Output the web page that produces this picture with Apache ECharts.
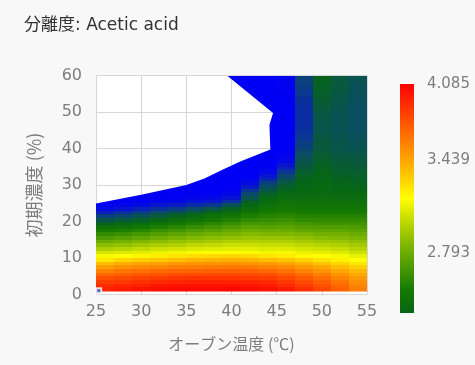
<!DOCTYPE html>
<html><head><meta charset="utf-8">
<script src="https://cdn.jsdelivr.net/npm/echarts@6/dist/echarts.min.js"></script>
<style>html,body{margin:0;padding:0;background:#f8f8f8;}#c{width:475px;height:365px;}</style>
</head><body><div id="c"></div>
<script>
const titleText = '分離度: Acetic acid';
const xName = 'オーブン温度 (℃)';
const yName = '初期濃度 (%)';

// cell edges (x: oven temperature, y: initial concentration)
const xEdges = [25, 27, 29, 31, 33, 35, 37, 39, 41, 43, 45, 47, 49, 51, 53, 55];
const yEdges = [0, 1, 2, 3, 4, 5, 6, 7, 8, 9, 10, 11, 12, 13, 14, 15, 16, 17, 18, 19, 20,
  21, 22, 23, 24, 25, 26, 27, 28, 29, 30, 31, 32, 33, 34, 35, 36, 37, 38, 39, 40,
  42, 44, 46, 48, 50, 52, 54, 56, 58, 60];

const _ = null; // no data
// resolution values, one row per y band (bottom to top), one column per x band
const values = [
  [3.97, 4.01, 4.04, 4.06, 4.08, 4.08, 4.08, 4.08, 4.07, 4.05, 4.00, 3.92, 3.83, 3.73, 3.62],
  [3.95, 3.98, 4.01, 4.03, 4.05, 4.05, 4.05, 4.06, 4.04, 4.02, 3.98, 3.90, 3.81, 3.71, 3.60],
  [3.91, 3.94, 3.96, 3.99, 4.01, 4.01, 4.01, 4.01, 4.00, 3.98, 3.93, 3.85, 3.77, 3.68, 3.57],
  [3.85, 3.87, 3.90, 3.92, 3.94, 3.95, 3.95, 3.95, 3.94, 3.92, 3.87, 3.80, 3.72, 3.63, 3.53],
  [3.78, 3.80, 3.83, 3.85, 3.87, 3.88, 3.88, 3.88, 3.87, 3.85, 3.80, 3.74, 3.66, 3.57, 3.49],
  [3.68, 3.71, 3.74, 3.76, 3.79, 3.79, 3.80, 3.80, 3.79, 3.77, 3.73, 3.66, 3.59, 3.51, 3.43],
  [3.58, 3.62, 3.65, 3.67, 3.69, 3.70, 3.71, 3.71, 3.70, 3.68, 3.64, 3.58, 3.51, 3.44, 3.38],
  [3.47, 3.52, 3.55, 3.57, 3.59, 3.60, 3.61, 3.62, 3.61, 3.58, 3.55, 3.49, 3.43, 3.37, 3.31],
  [3.36, 3.41, 3.44, 3.46, 3.48, 3.50, 3.51, 3.52, 3.50, 3.48, 3.45, 3.40, 3.34, 3.29, 3.24],
  [3.24, 3.29, 3.32, 3.34, 3.37, 3.39, 3.40, 3.41, 3.39, 3.37, 3.34, 3.30, 3.25, 3.21, 3.17],
  [3.15, 3.17, 3.20, 3.22, 3.25, 3.27, 3.28, 3.29, 3.28, 3.25, 3.23, 3.19, 3.17, 3.15, 3.11],
  [3.06, 3.08, 3.10, 3.12, 3.14, 3.16, 3.17, 3.17, 3.16, 3.14, 3.15, 3.12, 3.11, 3.09, 3.05],
  [2.97, 2.99, 3.02, 3.04, 3.06, 3.08, 3.09, 3.10, 3.10, 3.09, 3.09, 3.07, 3.05, 3.03, 2.99],
  [2.88, 2.90, 2.93, 2.96, 2.98, 3.01, 3.02, 3.04, 3.04, 3.03, 3.03, 3.01, 2.99, 2.97, 2.94],
  [2.79, 2.82, 2.85, 2.88, 2.91, 2.93, 2.95, 2.97, 2.98, 2.97, 2.97, 2.95, 2.93, 2.92, 2.89],
  [2.70, 2.73, 2.76, 2.80, 2.83, 2.86, 2.88, 2.90, 2.92, 2.91, 2.91, 2.89, 2.87, 2.86, 2.84],
  [2.62, 2.64, 2.68, 2.72, 2.75, 2.78, 2.81, 2.83, 2.86, 2.85, 2.85, 2.83, 2.81, 2.81, 2.79],
  [2.54, 2.56, 2.59, 2.64, 2.67, 2.71, 2.74, 2.77, 2.80, 2.79, 2.79, 2.77, 2.76, 2.76, 2.74],
  [2.46, 2.47, 2.51, 2.56, 2.59, 2.63, 2.67, 2.70, 2.74, 2.73, 2.74, 2.72, 2.71, 2.71, 2.70],
  [2.35, 2.38, 2.42, 2.47, 2.52, 2.56, 2.60, 2.63, 2.68, 2.68, 2.69, 2.67, 2.66, 2.66, 2.66],
  [2.27, 2.30, 2.34, 2.39, 2.44, 2.48, 2.53, 2.57, 2.62, 2.63, 2.64, 2.62, 2.62, 2.62, 2.62],
  [2.18, 2.21, 2.26, 2.31, 2.36, 2.41, 2.46, 2.50, 2.56, 2.58, 2.60, 2.58, 2.58, 2.58, 2.58],
  [2.07, 2.12, 2.17, 2.22, 2.27, 2.32, 2.38, 2.43, 2.50, 2.54, 2.56, 2.54, 2.54, 2.54, 2.54],
  [1.96, 2.01, 2.07, 2.13, 2.16, 2.22, 2.28, 2.36, 2.44, 2.50, 2.52, 2.51, 2.51, 2.51, 2.51],
  [1.90, 1.93, 1.96, 2.02, 2.05, 2.11, 2.15, 2.25, 2.38, 2.46, 2.49, 2.48, 2.48, 2.48, 2.48],
  [1.87, 1.89, 1.91, 1.94, 1.96, 2.00, 2.03, 2.12, 2.33, 2.42, 2.46, 2.45, 2.46, 2.45, 2.45],
  [_, 1.86, 1.88, 1.90, 1.91, 1.93, 1.95, 2.01, 2.27, 2.38, 2.43, 2.43, 2.44, 2.43, 2.43],
  [_, _, 1.86, 1.88, 1.89, 1.90, 1.91, 1.94, 2.21, 2.34, 2.40, 2.41, 2.42, 2.41, 2.41],
  [_, _, _, 1.86, 1.87, 1.88, 1.89, 1.91, 2.15, 2.29, 2.37, 2.39, 2.41, 2.39, 2.39],
  [_, _, _, _, 1.86, 1.87, 1.88, 1.89, 2.05, 2.24, 2.34, 2.38, 2.40, 2.38, 2.37],
  [_, _, _, _, _, 1.86, 1.87, 1.88, 1.96, 2.18, 2.30, 2.37, 2.39, 2.37, 2.36],
  [_, _, _, _, _, 1.85, 1.86, 1.87, 1.92, 2.10, 2.25, 2.36, 2.38, 2.36, 2.35],
  [_, _, _, _, _, _, 1.86, 1.86, 1.90, 2.01, 2.20, 2.35, 2.38, 2.35, 2.34],
  [_, _, _, _, _, _, 1.85, 1.86, 1.88, 1.95, 2.15, 2.33, 2.37, 2.34, 2.33],
  [_, _, _, _, _, _, 1.85, 1.85, 1.87, 1.92, 2.08, 2.31, 2.36, 2.33, 2.32],
  [_, _, _, _, _, _, _, 1.85, 1.86, 1.90, 2.01, 2.29, 2.35, 2.32, 2.31],
  [_, _, _, _, _, _, _, 1.85, 1.85, 1.88, 1.95, 2.27, 2.34, 2.31, 2.30],
  [_, _, _, _, _, _, _, _, 1.85, 1.87, 1.92, 2.25, 2.33, 2.30, 2.29],
  [_, _, _, _, _, _, _, _, 1.85, 1.86, 1.91, 2.23, 2.32, 2.29, 2.28],
  [_, _, _, _, _, _, _, _, _, 1.85, 1.90, 2.21, 2.31, 2.28, 2.27],
  [_, _, _, _, _, _, _, _, _, 1.85, 1.90, 2.18, 2.30, 2.28, 2.26],
  [_, _, _, _, _, _, _, _, _, 1.85, 1.90, 2.15, 2.29, 2.27, 2.25],
  [_, _, _, _, _, _, _, _, _, 1.85, 1.90, 2.13, 2.28, 2.26, 2.24],
  [_, _, _, _, _, _, _, _, _, 1.85, 1.90, 2.12, 2.28, 2.26, 2.24],
  [_, _, _, _, _, _, _, _, _, 1.85, 1.90, 2.12, 2.29, 2.26, 2.24],
  [_, _, _, _, _, _, _, _, _, 1.85, 1.90, 2.12, 2.30, 2.27, 2.24],
  [_, _, _, _, _, _, _, _, 1.86, 1.85, 1.90, 2.13, 2.32, 2.28, 2.24],
  [_, _, _, _, _, _, _, _, 1.86, 1.85, 1.90, 2.15, 2.34, 2.29, 2.25],
  [_, _, _, _, _, _, _, 1.86, 1.86, 1.85, 1.91, 2.17, 2.35, 2.30, 2.25],
  [_, _, _, _, _, _, _, 1.86, 1.86, 1.85, 1.92, 2.19, 2.36, 2.30, 2.26]
];

// outline of the region that has data
const regionX = [25, 55, 55, 39.5, 44.6, 44.2, 44.3, 40.9, 39, 37, 35, 30, 25];
const regionY = [0.8, 0.8, 60, 60, 49.7, 46.5, 39.7, 36.4, 34.2, 31.8, 30.0, 27.3, 24.9];

// design point marker
const markerPoints = [[25.3, 1.0]];

// colour bar
const barTickValues = [4.085, 3.439, 2.793];
const barTickLabels = ['4.085', '3.439', '2.793'];
const scaleValues = [2.376, 2.793, 3.439, 4.085];
const scalePos = [0, 0.262, 0.668, 1];
const rampColors = ['#0000ff', '#0000f2', '#0a1cc4', '#0a4a6a', '#066616', '#157a00', '#4a9a00', '#80b800', '#c0d800', '#ffff00', '#ffc800', '#ff9600', '#ff6400', '#ff3200', '#ff0000'];
const rampMin = -0.4, rampMax = 1;

function toPos(v) {
  const s = scaleValues, p = scalePos;
  let k = 0;
  if (v > s[1]) k = 1;
  if (v > s[2]) k = 2;
  return p[k] + (v - s[k]) * (p[k + 1] - p[k]) / (s[k + 1] - s[k]);
}

const cells = [];
values.forEach((row, i) => {
  row.forEach((v, j) => {
    if (v == null) return;
    cells.push([xEdges[j], xEdges[j + 1], yEdges[i], yEdges[i + 1], v, toPos(v)]);
  });
});

const nSteps = rampColors.length - 1;
const barStops = [];
rampColors.forEach((c, i) => {
  const p = rampMin + (rampMax - rampMin) * i / nSteps;
  if (p >= -1e-9) barStops.push({ offset: Math.max(0, p), color: c });
});

const gray = '#7d7d7d';
const latin = "'DejaVu Sans', 'Noto Sans CJK JP', sans-serif";
const cjk = "'Noto Sans CJK JP', sans-serif";
const chart = echarts.init(document.getElementById('c'));
chart.setOption({
  backgroundColor: '#f8f8f8',
  animation: false,
  title: {
    text: titleText, left: 19, top: 12,
    textStyle: { fontSize: 17, fontWeight: 'normal', color: '#333', fontFamily: latin }
  },
  grid: [
    { left: 96, right: 108, top: 75.5, bottom: 70.5, show: true, backgroundColor: '#ffffff', borderWidth: 0 },
    { left: 400, width: 14, top: 84, height: 229 }
  ],
  xAxis: [
    {
      gridIndex: 0, type: 'value', min: 25, max: 55, interval: 5,
      axisLine: { show: false }, axisTick: { show: false },
      splitLine: { show: true, lineStyle: { color: '#d6d6d6' } },
      axisLabel: { margin: 9, color: gray, fontSize: 16, fontFamily: latin },
      name: xName, nameLocation: 'middle', nameGap: 41,
      nameTextStyle: { color: gray, fontSize: 16, fontFamily: cjk }
    },
    { gridIndex: 1, type: 'value', min: 0, max: 1, show: false }
  ],
  yAxis: [
    {
      gridIndex: 0, type: 'value', min: 0, max: 60, interval: 10,
      axisLine: { show: false }, axisTick: { show: false },
      splitLine: { show: true, lineStyle: { color: '#d6d6d6' } },
      axisLabel: { margin: 14, color: gray, fontSize: 16, fontFamily: latin },
      name: yName, nameLocation: 'middle', nameGap: 53,
      nameTextStyle: { color: gray, fontSize: 18, fontFamily: cjk }
    },
    {
      gridIndex: 1, type: 'value', min: 0, max: 1, position: 'right',
      axisLine: { show: false }, splitLine: { show: false },
      axisTick: { show: true, length: 5, customValues: barTickValues.map(toPos), lineStyle: { color: '#888' } },
      axisLabel: {
        show: true, margin: 13, color: gray, fontSize: 15, fontFamily: latin,
        customValues: barTickValues.map(toPos),
        formatter: function (v) {
          for (let i = 0; i < barTickValues.length; i++) {
            if (Math.abs(toPos(barTickValues[i]) - v) < 1e-6) return barTickLabels[i];
          }
          return '';
        }
      }
    }
  ],
  visualMap: {
    type: 'continuous', show: false, seriesIndex: 0, dimension: 5,
    min: rampMin, max: rampMax, inRange: { color: rampColors }
  },
  series: [
    {
      type: 'custom', xAxisIndex: 0, yAxisIndex: 0, data: cells, silent: true,
      encode: { x: [0, 1], y: [2, 3] },
      renderItem: function (params, api) {
        const a = api.coord([api.value(0), api.value(2)]);
        const b = api.coord([api.value(1), api.value(3)]);
        const x0 = Math.round(Math.min(a[0], b[0])), x1 = Math.round(Math.max(a[0], b[0]));
        const y0 = Math.round(Math.min(a[1], b[1])), y1 = Math.round(Math.max(a[1], b[1]));
        const pts = regionX.map((x, k) => api.coord([x, regionY[k]]));
        return {
          type: 'rect',
          shape: { x: x0, y: y0, width: x1 - x0, height: y1 - y0 },
          style: { fill: api.visual('color') },
          clipPath: { type: 'polygon', shape: { points: pts } }
        };
      }
    },
    {
      type: 'custom', xAxisIndex: 1, yAxisIndex: 1, data: [[0, 1, 0, 1]], silent: true,
      encode: { x: [0, 1], y: [2, 3] },
      renderItem: function (params, api) {
        const a = api.coord([api.value(0), api.value(2)]);
        const b = api.coord([api.value(1), api.value(3)]);
        return {
          type: 'rect',
          shape: { x: a[0], y: b[1], width: b[0] - a[0], height: a[1] - b[1] },
          style: { fill: new echarts.graphic.LinearGradient(0, 1, 0, 0, barStops) }
        };
      }
    },
    {
      type: 'scatter', xAxisIndex: 0, yAxisIndex: 0, data: markerPoints, silent: true,
      symbol: 'rect', symbolSize: 5, clip: false, z: 5,
      itemStyle: { color: '#2f6fe0', borderColor: '#ffffff', borderWidth: 2 }
    }
  ]
});
</script>
</body></html>
